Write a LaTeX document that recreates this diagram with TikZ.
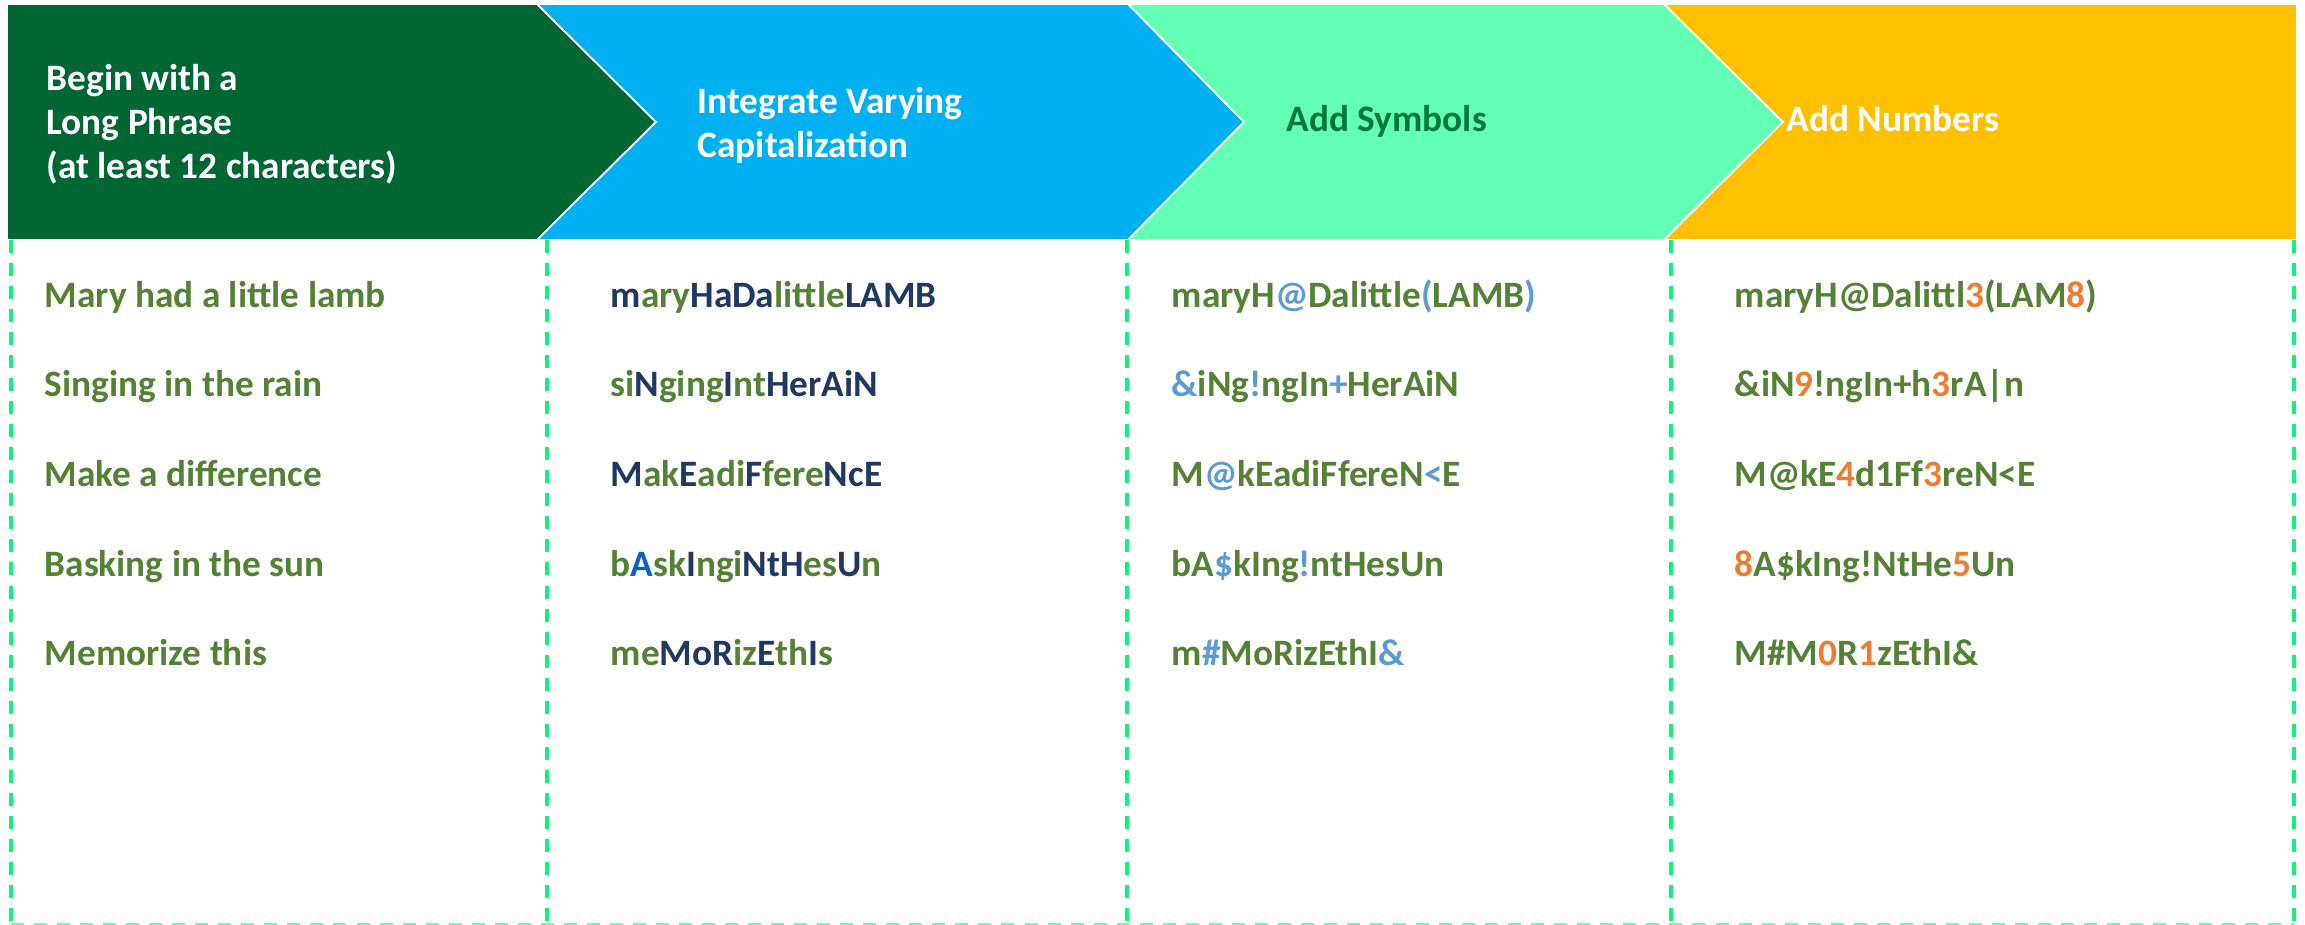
\documentclass[tikz,border=0pt]{standalone}
\usepackage{fontspec}
\setmainfont{Carlito}
\usepackage{xcolor}
\usepackage{tikz}
\usetikzlibrary{positioning}
\definecolor{stepgreen}{HTML}{006633}
\definecolor{stepblue}{HTML}{00B0F0}
\definecolor{stepmint}{HTML}{62FFB5}
\definecolor{stepgold}{HTML}{FFC000}
\definecolor{symtitle}{HTML}{00773A}
\definecolor{phrasegreen}{HTML}{548235}
\definecolor{capnavy}{HTML}{1F3864}
\definecolor{capblue}{HTML}{0563C1}
\definecolor{symblue}{HTML}{5B9BD5}
\definecolor{numorange}{HTML}{ED7D31}
\definecolor{gridgreen}{HTML}{14F07E}
\definecolor{gridmint}{HTML}{66FFB3}

\newcommand{\cp}[1]{\textcolor{capnavy}{#1}}
\newcommand{\sy}[1]{\textcolor{symblue}{#1}}
\newcommand{\nm}[1]{\textcolor{numorange}{#1}}

\tikzset{
  stepshape/.style={draw=white, line width=0.5pt},
  steptitle/.style={inner sep=0pt, align=left, font=\fontsize{10.6}{12.5}\selectfont\bfseries},
  phrase/.style={anchor=base west, inner sep=0pt, text=phrasegreen,
                 font=\fontsize{10.6}{13}\selectfont\bfseries},
  colsep/.style={draw=gridgreen, line width=0.9pt, dash pattern=on 3.7pt off 2.85pt},
  rowsep/.style={draw=gridmint, line width=0.6pt, dash pattern=on 3.7pt off 2.85pt}
}

\begin{document}
\begin{tikzpicture}[x=0.01cm, y=-0.01cm]
    \useasboundingbox (0,0) rectangle (2305,925);

    % chevron header
    \filldraw[stepshape, fill=stepgreen] (7,4) -- (537,4) -- (656,122) -- (537,240) -- (7,240) -- cycle;
    \filldraw[stepshape, fill=stepblue] (537,4) -- (1128,4) -- (1244,122) -- (1128,240) -- (537,240) -- (656,122) -- cycle;
    \filldraw[stepshape, fill=stepmint] (1128,4) -- (1664,4) -- (1783,122) -- (1664,240) -- (1128,240) -- (1244,122) -- cycle;
    \filldraw[stepshape, fill=stepgold] (1664,4) -- (2297,4) -- (2297,240) -- (1664,240) -- (1783,122) -- cycle;

    \node[steptitle, anchor=west, text=white] (long) at (46,124)
      {Begin with a\\Long Phrase\\(at least 12 characters)};
    \node[steptitle, anchor=west, text=white] (caps) at (697,125)
      {Integrate Varying\\Capitalization};
    \node[steptitle, anchor=base west, text=symtitle] (syms) at (1286,132) {Add Symbols};
    \node[steptitle, anchor=base west, text=white] (nums) at (1786,132) {Add Numbers};

    % dashed columns
    \foreach \x in {11,547,1127,1671,2294}
      \draw[colsep] (\x,240) -- (\x,924);
    \draw[rowsep] (11,924) -- (2294,924);

    % phrases
    \node[phrase] (p1) at (44,308) {Mary had a little lamb};
    \node[phrase] (p2) at (44,397) {Singing in the rain};
    \node[phrase] (p3) at (44,487) {Make a difference};
    \node[phrase] (p4) at (44,577) {Basking in the sun};
    \node[phrase] (p5) at (44,666) {Memorize this};

    \node[phrase] (c1) at (610,308) {\cp{m}ary\cp{HaDa}little\cp{LAMB}};
    \node[phrase] (c2) at (610,397) {si\cp{N}ging\cp{I}nt\cp{HerAiN}};
    \node[phrase] (c3) at (610,487) {\cp{M}ak\cp{E}adi\cp{F}fere\cp{NcE}};
    \node[phrase] (c4) at (610,577) {b\textcolor{capblue}{A}sk\cp{I}ngi\cp{NtH}es\cp{U}n};
    \node[phrase] (c5) at (610,666) {me\cp{MoR}iz\cp{E}th\cp{I}s};

    \node[phrase] (s1) at (1171,308) {maryH\sy{@}Dalittle\sy{(}LAMB\sy{)}};
    \node[phrase] (s2) at (1171,397) {\sy{\&}iNg\sy{!}ngIn\sy{+}HerAiN};
    \node[phrase] (s3) at (1171,487) {M\sy{@}kEadiFfereN\sy{<}E};
    \node[phrase] (s4) at (1171,577) {bA\sy{\$}kIng\sy{!}ntHesUn};
    \node[phrase] (s5) at (1171,666) {m\sy{\#}MoRizEthI\sy{\&}};

    \node[phrase] (n1) at (1734,308) {maryH@Dalittl\nm{3}(LAM\nm{8})};
    \node[phrase] (n2) at (1734,397) {\&iN\nm{9}!ngIn+h\nm{3}rA|n};
    \node[phrase] (n3) at (1734,487) {M@kE\nm{4}d1Ff\nm{3}reN<E};
    \node[phrase] (n4) at (1734,577) {\nm{8}A\$kIng!NtHe\nm{5}Un};
    \node[phrase] (n5) at (1734,666) {M\#M\nm{0}R\nm{1}zEthI\&};
\end{tikzpicture}
\end{document}
